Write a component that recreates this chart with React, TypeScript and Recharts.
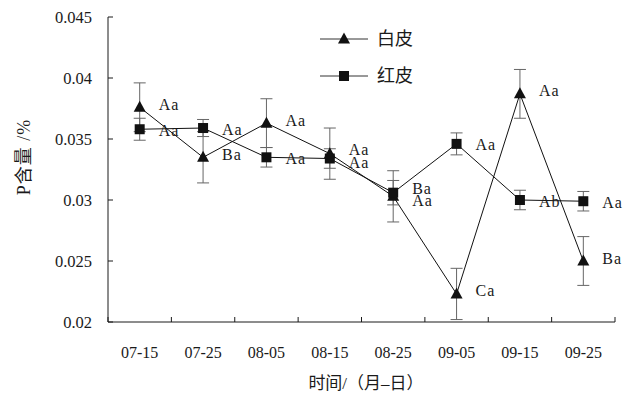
import React from 'react';
import { LineChart, Line, XAxis, YAxis, ErrorBar, LabelList, Legend } from 'recharts';

const categories = ['07-15', '07-25', '08-05', '08-15', '08-25', '09-05', '09-15', '09-25'];
const whiteValues = [0.0376, 0.0335, 0.0363, 0.0338, 0.0303, 0.0223, 0.0387, 0.025];
const whiteErrors = [0.002, 0.0021, 0.002, 0.0021, 0.0021, 0.0021, 0.002, 0.002];
const whiteLabels = ['Aa', 'Ba', 'Aa', 'Aa', 'Aa', 'Ca', 'Aa', 'Ba'];
const redValues = [0.0358, 0.0359, 0.0335, 0.0334, 0.0306, 0.0346, 0.03, 0.0299];
const redErrors = [0.0009, 0.0007, 0.0008, 0.0008, 0.001, 0.0009, 0.0008, 0.0008];
const redLabels = ['Aa', 'Aa', 'Aa', 'Aa', 'Ba', 'Aa', 'Ab', 'Aa'];
const yTicks = [0.02, 0.025, 0.03, 0.035, 0.04, 0.045];
const seriesNames = ['白皮', '红皮'];
const yTitle = 'P含量 /%';
const xTitle = '时间/（月–日）';

const data = categories.map((c, i) => ({
  cat: c,
  white: whiteValues[i],
  whiteErr: whiteErrors[i],
  whiteLabel: whiteLabels[i],
  red: redValues[i],
  redErr: redErrors[i],
  redLabel: redLabels[i],
}));

const W = 624;
const H = 395;
const M = { top: 17, right: 9, bottom: 0, left: 0 };
const Y_W = 108;
const X_H = 73;
const PLOT_LEFT = M.left + Y_W;
const PLOT_RIGHT = W - M.right;
const PLOT_BOTTOM = H - M.bottom - X_H;
const BAND = (PLOT_RIGHT - PLOT_LEFT) / categories.length;

const FONT = "'Liberation Serif', 'Times New Roman', 'Noto Sans CJK SC', serif";
const INK = '#1a1a1a';

const XTick = (props: any) => {
  const { x, payload, index } = props;
  const half = BAND / 2;
  return (
    <g>
      <line x1={x - half} x2={x - half} y1={PLOT_BOTTOM} y2={PLOT_BOTTOM - 5} stroke={INK} />
      {index === categories.length - 1 && (
        <line x1={x + half} x2={x + half} y1={PLOT_BOTTOM} y2={PLOT_BOTTOM - 5} stroke={INK} />
      )}
      <text x={x} y={PLOT_BOTTOM + 30} textAnchor="middle" dominantBaseline="central" fill={INK} fontSize={16} fontFamily={FONT}>
        {payload.value}
      </text>
    </g>
  );
};

const YTick = (props: any) => {
  const { y, payload } = props;
  return (
    <g>
      <line x1={PLOT_LEFT} x2={PLOT_LEFT + 5} y1={y} y2={y} stroke={INK} />
      <text x={PLOT_LEFT - 16} y={y} textAnchor="end" dominantBaseline="central" fill={INK} fontSize={16.5} fontFamily={FONT}>
        {String(payload.value)}
      </text>
    </g>
  );
};

const Triangle = (props: any) => {
  const { cx, cy } = props;
  if (cx == null || cy == null) return <g />;
  return <path d={`M${cx},${cy - 6.5} L${cx + 6},${cy + 4.5} L${cx - 6},${cy + 4.5} Z`} fill="#111" />;
};

const Square = (props: any) => {
  const { cx, cy } = props;
  if (cx == null || cy == null) return <g />;
  return <rect x={cx - 5} y={cy - 5} width={10} height={10} fill="#111" />;
};

// label vertical nudge: if the two series are close, the higher one's label goes up, the lower one's down
const makeLabel = (own: number[], other: number[], base: number) => (props: any) => {
  const { x, y, value, index } = props;
  let dy = base;
  if (Math.abs(own[index] - other[index]) < 0.001) {
    dy = own[index] >= other[index] ? -4 : 4;
  }
  return (
    <text x={x + 19} y={y + dy} dominantBaseline="central" fill={INK} fontSize={16} fontFamily={FONT} letterSpacing={1}>
      {value}
    </text>
  );
};

const renderLegend = () => (
  <svg width={150} height={60}>
    <line x1={4} x2={52} y1={15} y2={15} stroke="#333" />
    <path d="M28,8.5 L34,19.5 L22,19.5 Z" fill="#111" />
    <text x={61} y={15} dominantBaseline="central" fontSize={18} fill={INK} fontFamily={FONT}>{seriesNames[0]}</text>
    <line x1={4} x2={52} y1={52} y2={52} stroke="#333" />
    <rect x={23} y={47} width={10} height={10} fill="#111" />
    <text x={61} y={52} dominantBaseline="central" fontSize={18} fill={INK} fontFamily={FONT}>{seriesNames[1]}</text>
  </svg>
);

const YLabel = () => (
  <text x={24} y={157} transform="rotate(-90 24 157)" textAnchor="middle" dominantBaseline="central" fontSize={18} letterSpacing={1} fill={INK} fontFamily={FONT}>
    {yTitle}
  </text>
);

const XLabel = () => (
  <text x={366} y={383} textAnchor="middle" dominantBaseline="central" fontSize={17} fill={INK} fontFamily={FONT}>
    {xTitle}
  </text>
);

export default function App() {
  return (
    <div style={{ position: 'absolute', left: 0, top: 0, width: W, height: H, background: '#fff', fontFamily: FONT }}>
      <LineChart width={W} height={H} data={data} margin={M}>
        <XAxis
          dataKey="cat"
          height={X_H}
          interval={0}
          padding={{ left: BAND / 2, right: BAND / 2 }}
          tickLine={false}
          tick={XTick}
          axisLine={{ stroke: INK }}
          label={XLabel}
        />
        <YAxis
          width={Y_W}
          domain={[0.02, 0.045]}
          ticks={yTicks}
          interval={0}
          tickLine={false}
          tick={YTick}
          axisLine={{ stroke: INK }}
          label={YLabel}
        />
        <Legend
          layout="horizontal"
          verticalAlign="middle"
          align="center"
          content={renderLegend}
          wrapperStyle={{ position: 'absolute', left: 316, top: 24, width: 150, height: 60 }}
        />
        <Line dataKey="white" stroke="#111" strokeWidth={1} dot={Triangle} activeDot={false} isAnimationActive={false}>
          <ErrorBar dataKey="whiteErr" direction="y" width={6} stroke="#666" strokeWidth={1} />
          <LabelList dataKey="whiteLabel" content={makeLabel(whiteValues, redValues, -3)} />
        </Line>
        <Line dataKey="red" stroke="#111" strokeWidth={1} dot={Square} activeDot={false} isAnimationActive={false}>
          <ErrorBar dataKey="redErr" direction="y" width={6} stroke="#666" strokeWidth={1} />
          <LabelList dataKey="redLabel" content={makeLabel(redValues, whiteValues, 1)} />
        </Line>
      </LineChart>
    </div>
  );
}
